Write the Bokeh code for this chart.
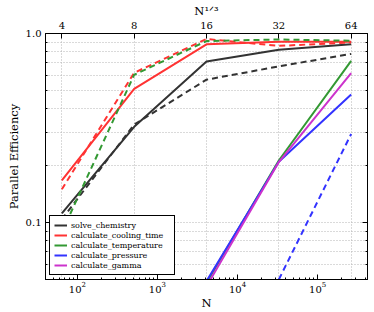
from bokeh.plotting import figure
from bokeh.models import LogAxis, FixedTicker, Legend, LegendItem
from bokeh.embed import file_html
from bokeh.resources import INLINE

# ---- data ----
N = [64, 512, 4096, 32768, 262144]
N_cuberoot_labels = ["4", "8", "16", "32", "64"]
x_decade_ticks = [1e2, 1e3, 1e4, 1e5]
y_ticks = [0.1, 1.0]
y_tick_labels = ["0.1", "1.0"]

solve_chemistry = [0.112, 0.321, 0.711, 0.82, 0.876]
solve_chemistry_b = [0.104, 0.33, 0.57, 0.67, 0.78]
cooling_time = [0.167, 0.51, 0.876, 0.905, 0.905]
cooling_time_b = [0.15, 0.62, 0.935, 0.86, 0.897]
temperature_N = [4096, 32768, 262144]
temperature = [0.048, 0.213, 0.717]
temperature_b = [0.089, 0.605, 0.912, 0.93, 0.916]
pressure_N = [4096, 32768, 262144]
pressure = [0.049, 0.21, 0.476]
pressure_b_N = [32768, 262144]
pressure_b = [0.05, 0.294]
gamma_N = [4096, 32768, 262144]
gamma = [0.046, 0.209, 0.618]

BLACK = "#333333"
RED = "#ff3333"
GREEN = "#339933"
BLUE = "#3333ff"
MAGENTA = "#cc33cc"
FONT = "DejaVu Serif"

p = figure(width=374, height=312, x_axis_type="log", y_axis_type="log",
           x_range=(40, 419430), y_range=(0.05, 1.0),
           output_backend="svg", toolbar_location=None,
           min_border_left=45, min_border_right=7, min_border_top=32, min_border_bottom=32)
p.outline_line_color = "black"
p.outline_line_width = 1
p.outline_line_alpha = 1
p.border_fill_color = "white"

x_minor = [m * 10 ** k for k in range(1, 6) for m in range(2, 10)]
y_minor = [m / 100 for m in range(5, 10)] + [m / 10 for m in range(2, 10)]
x_ticker = FixedTicker(ticks=x_decade_ticks, minor_ticks=x_minor)
y_ticker = FixedTicker(ticks=y_ticks, minor_ticks=y_minor)
top_ticker = FixedTicker(ticks=N, minor_ticks=[])

def style_axis(ax):
    ax.axis_line_color = "black"
    ax.major_tick_in = 5
    ax.major_tick_out = 0
    ax.minor_tick_in = 2
    ax.minor_tick_out = 0
    ax.major_tick_line_color = "black"
    ax.minor_tick_line_color = "black"
    ax.major_label_text_font = FONT
    ax.major_label_text_font_size = "10px"
    ax.major_label_text_color = "black"
    ax.axis_label_text_font = FONT
    ax.axis_label_text_font_size = "11.5px"
    ax.axis_label_text_font_style = "normal"
    ax.axis_label_text_color = "black"

xa = p.xaxis[0]
xa.ticker = x_ticker
xa.axis_label = "N"
style_axis(xa)
xa.major_label_standoff = 2
xa.axis_label_standoff = 0

ya = p.yaxis[0]
ya.ticker = y_ticker
ya.major_label_overrides = {t: l for t, l in zip(y_ticks, y_tick_labels)}
ya.axis_label = "Parallel Efficiency"
style_axis(ya)
ya.major_label_standoff = 4
ya.axis_label_standoff = 2

top = LogAxis(ticker=top_ticker, axis_label="N¹ᐟ³",
              major_label_overrides={n: l for n, l in zip(N, N_cuberoot_labels)})
style_axis(top)
top.major_label_standoff = 5
top.axis_label_standoff = 1
p.add_layout(top, "above")

right = LogAxis(ticker=y_ticker)
style_axis(right)
right.major_label_overrides = {t: "" for t in y_ticks}
right.major_label_text_font_size = "1px"
right.major_label_standoff = 0
right.axis_label_standoff = 0
p.add_layout(right, "right")

p.xgrid.ticker = top_ticker
p.ygrid.ticker = y_ticker
for g in (p.xgrid, p.ygrid):
    g.grid_line_color = "#b5b5b5"
    g.grid_line_dash = "1 2"
    g.grid_line_width = 1
p.ygrid.minor_grid_line_color = "#b5b5b5"
p.ygrid.minor_grid_line_dash = "1 2"

LW = 2
DASH = "6 4"
r1 = p.line(N, solve_chemistry, line_color=BLACK, line_width=LW)
r2 = p.line(N, cooling_time, line_color=RED, line_width=LW)
r3 = p.line(temperature_N, temperature, line_color=GREEN, line_width=LW)
r4 = p.line(pressure_N, pressure, line_color=BLUE, line_width=LW)
r5 = p.line(gamma_N, gamma, line_color=MAGENTA, line_width=LW)
p.line(N, solve_chemistry_b, line_color=BLACK, line_width=LW, line_dash=DASH)
p.line(N, cooling_time_b, line_color=RED, line_width=LW, line_dash=DASH)
p.line(N, temperature_b, line_color=GREEN, line_width=LW, line_dash=DASH)
p.line(pressure_b_N, pressure_b, line_color=BLUE, line_width=LW, line_dash=DASH)

legend = Legend(items=[
    LegendItem(label="solve_chemistry", renderers=[r1]),
    LegendItem(label="calculate_cooling_time", renderers=[r2]),
    LegendItem(label="calculate_temperature", renderers=[r3]),
    LegendItem(label="calculate_pressure", renderers=[r4]),
    LegendItem(label="calculate_gamma", renderers=[r5]),
], location="bottom_left")
legend.margin = 4
legend.padding = 4
legend.spacing = 0
legend.label_height = 10
legend.label_width = 99
legend.glyph_height = 10
legend.glyph_width = 13
legend.label_standoff = 4
legend.label_text_font = FONT
legend.label_text_font_size = "8px"
legend.label_text_color = "black"
legend.border_line_color = "black"
legend.border_line_width = 1
legend.border_line_alpha = 1
legend.background_fill_color = "white"
legend.background_fill_alpha = 1
p.add_layout(legend, "center")

open("out.html", "w").write(file_html(p, INLINE))
